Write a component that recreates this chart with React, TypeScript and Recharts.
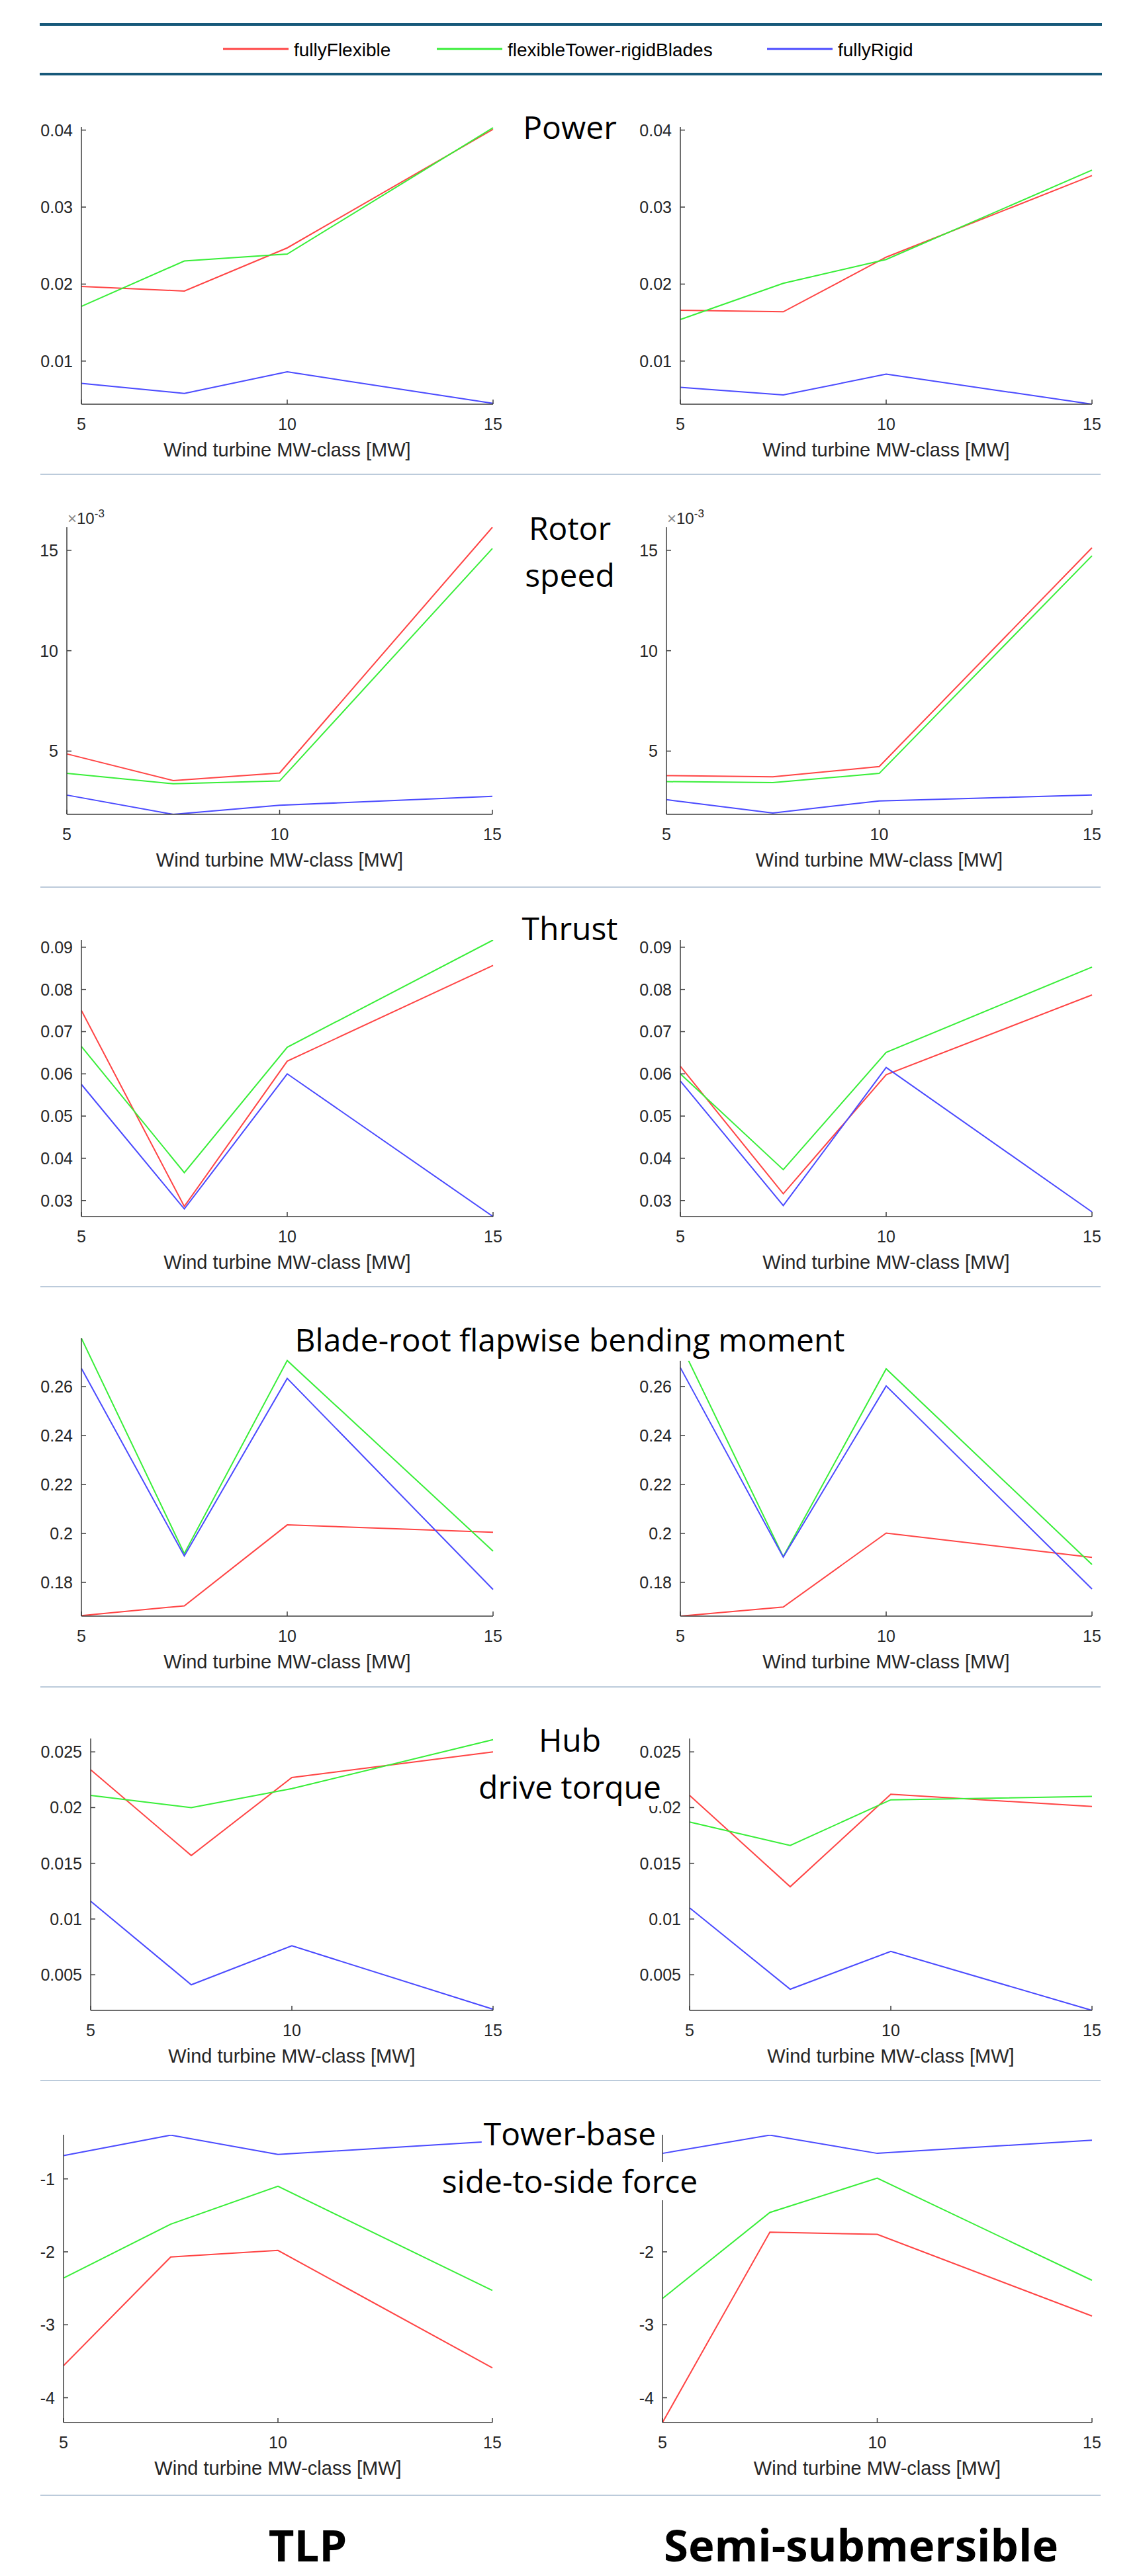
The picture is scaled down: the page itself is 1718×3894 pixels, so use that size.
import React from 'react';
import { LineChart, Line, XAxis, YAxis, Label } from 'recharts';

const PAGE_W = 1718;
const PAGE_H = 3894;
const AXIS = '#3c3c3c';
const INK = '#262626';
const TEAL = '#17597a';
const RULE = '#bccbdb';
const TICK_FONT = '"Liberation Sans", Arial, Helvetica, sans-serif';
const TITLE_FONT = '"Open Sans", "Noto Sans", sans-serif';

const MW = [5, 7.5, 10, 15];
const X_TICKS = [5, 10, 15];
const X_LABEL = 'Wind turbine MW-class [MW]';

const SERIES = [
  { key: 'flex', name: 'fullyFlexible', color: '#ff4444' },
  { key: 'tower', name: 'flexibleTower-rigidBlades', color: '#38ee38' },
  { key: 'rigid', name: 'fullyRigid', color: '#4a4aff' },
];

// Power
const powerTicks = [0.01, 0.02, 0.03, 0.04];
const powerDomain = [0.0044, 0.0404];
const powerTlpFlex = [0.0197, 0.0191, 0.0247, 0.0401];
const powerTlpTower = [0.0171, 0.023, 0.0239, 0.0403];
const powerTlpRigid = [0.0071, 0.0058, 0.0086, 0.0045];
const powerSemiFlex = [0.0166, 0.0164, 0.0235, 0.0341];
const powerSemiTower = [0.0154, 0.0201, 0.0232, 0.0348];
const powerSemiRigid = [0.0066, 0.0056, 0.0083, 0.0044];

// Rotor speed (x 10^-3)
const rotorTicks = [5, 10, 15];
const rotorDomain = [1.85, 16.15];
const rotorTlpFlex = [4.86, 3.53, 3.91, 16.15];
const rotorTlpTower = [3.89, 3.37, 3.51, 15.09];
const rotorTlpRigid = [2.81, 1.85, 2.3, 2.75];
const rotorSemiFlex = [3.78, 3.72, 4.23, 15.13];
const rotorSemiTower = [3.48, 3.43, 3.89, 14.73];
const rotorSemiRigid = [2.58, 1.92, 2.52, 2.81];

// Thrust
const thrustTicks = [0.03, 0.04, 0.05, 0.06, 0.07, 0.08, 0.09];
const thrustDomain = [0.0262, 0.0917];
const thrustTlpFlex = [0.075, 0.0286, 0.063, 0.0857];
const thrustTlpTower = [0.0665, 0.0366, 0.0663, 0.0917];
const thrustTlpRigid = [0.0575, 0.028, 0.06, 0.0262];
const thrustSemiFlex = [0.0618, 0.0316, 0.0598, 0.0787];
const thrustSemiTower = [0.06, 0.0373, 0.0651, 0.0853];
const thrustSemiRigid = [0.0583, 0.0288, 0.0615, 0.0273];

// Blade-root flapwise bending moment
const bladeTicks = [0.18, 0.2, 0.22, 0.24, 0.26];
const bladeTlpDomain = [0.1662, 0.2798];
const bladeSemiDomain = [0.1662, 0.2705];
const bladeTlpFlex = [0.1664, 0.1704, 0.2035, 0.2005];
const bladeTlpTower = [0.2798, 0.1918, 0.2707, 0.1928];
const bladeTlpRigid = [0.2675, 0.1908, 0.2634, 0.1771];
const bladeSemiFlex = [0.1662, 0.1699, 0.2001, 0.1902];
const bladeSemiTower = [0.2775, 0.1905, 0.2672, 0.1873];
const bladeSemiRigid = [0.2677, 0.1903, 0.2602, 0.1773];

// Hub drive torque
const hubTicks = [0.005, 0.01, 0.015, 0.02, 0.025];
const hubDomain = [0.0018, 0.0262];
const hubTlpFlex = [0.0234, 0.0157, 0.0227, 0.025];
const hubTlpTower = [0.0211, 0.02, 0.0217, 0.0261];
const hubTlpRigid = [0.0116, 0.0041, 0.0076, 0.0019];
const hubSemiFlex = [0.0211, 0.0129, 0.0212, 0.0201];
const hubSemiTower = [0.0187, 0.0166, 0.0207, 0.021];
const hubSemiRigid = [0.011, 0.0037, 0.0071, 0.0018];

// Tower-base side-to-side force
const towerTicks = [-4, -3, -2, -1];
const towerDomain = [-4.34, -0.395];
const towerTlpFlex = [-3.56, -2.07, -1.98, -3.59];
const towerTlpTower = [-2.36, -1.62, -1.1, -2.53];
const towerTlpRigid = [-0.68, -0.4, -0.665, -0.485];
const towerSemiFlex = [-4.34, -1.73, -1.76, -2.88];
const towerSemiTower = [-2.64, -1.46, -0.99, -2.39];
const towerSemiRigid = [-0.65, -0.4, -0.65, -0.47];

const Y_W = 130;
const TOP = 14;
const RIGHT = 24;
const X_H = 100;
const Y_GAP = 13;
const X_GAP = 21;
const TICK_LEN = 7;

function YTick(props: any) {
  const { x, y, payload } = props;
  const ax = x + Y_GAP;
  return (
    <g>
      <line x1={ax} x2={ax + TICK_LEN} y1={y} y2={y} stroke={AXIS} strokeWidth={1.5} />
      <text x={x} y={y} dy="0.36em" textAnchor="end" fontSize={25} fill={INK} fontFamily={TICK_FONT}>
        {String(payload.value)}
      </text>
    </g>
  );
}

function XTick(props: any) {
  const { x, y, payload } = props;
  const ay = y - X_GAP;
  return (
    <g>
      <line x1={x} x2={x} y1={ay} y2={ay - TICK_LEN} stroke={AXIS} strokeWidth={1.5} />
      <text x={x} y={y} dy="0.71em" textAnchor="middle" fontSize={25} fill={INK} fontFamily={TICK_FONT}>
        {String(payload.value)}
      </text>
    </g>
  );
}

type Box = { x0: number; x1: number; y0: number; y1: number };

function Panel({ box, flex, tower, rigid, ticks, domain }: any) {
  const b = box as Box;
  const rows = MW.map((mw, i) => ({ mw, flex: flex[i], tower: tower[i], rigid: rigid[i] }));
  const width = b.x1 - b.x0 + Y_W + RIGHT;
  const height = b.y1 - b.y0 + TOP + X_H;
  return (
    <div style={{ position: 'absolute', left: b.x0 - Y_W, top: b.y0 - TOP }}>
      <LineChart width={width} height={height} data={rows} margin={{ top: TOP, right: RIGHT, bottom: 0, left: 0 }}>
        <XAxis
          dataKey="mw"
          type="number"
          domain={[5, 15]}
          ticks={X_TICKS}
          interval={0}
          height={X_H}
          tickSize={0}
          tickMargin={X_GAP}
          tickLine={false}
          axisLine={{ stroke: AXIS, strokeWidth: 1.5 }}
          tick={(p: any) => <XTick {...p} />}
        >
          <Label value={X_LABEL} position="insideTop" offset={58} fontSize={29} fill={INK} fontFamily={TICK_FONT} />
        </XAxis>
        <YAxis
          type="number"
          domain={domain}
          allowDataOverflow
          ticks={ticks}
          interval={0}
          width={Y_W}
          tickSize={0}
          tickMargin={Y_GAP}
          tickLine={false}
          axisLine={{ stroke: AXIS, strokeWidth: 1.5 }}
          tick={(p: any) => <YTick {...p} />}
        />
        {SERIES.map((s) => (
          <Line
            key={s.key}
            dataKey={s.key}
            type="linear"
            stroke={s.color}
            strokeWidth={2}
            dot={false}
            activeDot={false}
            isAnimationActive={false}
          />
        ))}
      </LineChart>
    </div>
  );
}

const TITLE_LINES = [
  { text: 'Power', base: 211 },
  { text: 'Rotor', base: 817 },
  { text: 'speed', base: 888 },
  { text: 'Thrust', base: 1422 },
  { text: 'Blade-root flapwise bending moment', base: 2044 },
  { text: 'Hub', base: 2649 },
  { text: 'drive torque', base: 2720 },
  { text: 'Tower-base', base: 3244 },
  { text: 'side-to-side force', base: 3316 },
];

const RULES_Y = [717, 1341, 1945, 2550, 3145, 3772];
const LEGEND_X = [337, 660, 1159];

export default function App() {
  return (
    <div style={{ position: 'absolute', left: 0, top: 0, width: PAGE_W, height: PAGE_H, background: '#fff', overflow: 'hidden' }}>
      <Panel box={{ x0: 123, x1: 745, y0: 192, y1: 611 }} flex={powerTlpFlex} tower={powerTlpTower} rigid={powerTlpRigid} ticks={powerTicks} domain={powerDomain} />
      <Panel box={{ x0: 1028, x1: 1650, y0: 192, y1: 611 }} flex={powerSemiFlex} tower={powerSemiTower} rigid={powerSemiRigid} ticks={powerTicks} domain={powerDomain} />
      <Panel box={{ x0: 101, x1: 744, y0: 797, y1: 1231 }} flex={rotorTlpFlex} tower={rotorTlpTower} rigid={rotorTlpRigid} ticks={rotorTicks} domain={rotorDomain} />
      <Panel box={{ x0: 1007, x1: 1650, y0: 797, y1: 1231 }} flex={rotorSemiFlex} tower={rotorSemiTower} rigid={rotorSemiRigid} ticks={rotorTicks} domain={rotorDomain} />
      <Panel box={{ x0: 123, x1: 745, y0: 1421, y1: 1839 }} flex={thrustTlpFlex} tower={thrustTlpTower} rigid={thrustTlpRigid} ticks={thrustTicks} domain={thrustDomain} />
      <Panel box={{ x0: 1028, x1: 1650, y0: 1421, y1: 1839 }} flex={thrustSemiFlex} tower={thrustSemiTower} rigid={thrustSemiRigid} ticks={thrustTicks} domain={thrustDomain} />
      <Panel box={{ x0: 123, x1: 745, y0: 2023, y1: 2443 }} flex={bladeTlpFlex} tower={bladeTlpTower} rigid={bladeTlpRigid} ticks={bladeTicks} domain={bladeTlpDomain} />
      <Panel box={{ x0: 1028, x1: 1650, y0: 2057, y1: 2443 }} flex={bladeSemiFlex} tower={bladeSemiTower} rigid={bladeSemiRigid} ticks={bladeTicks} domain={bladeSemiDomain} />
      <Panel box={{ x0: 137, x1: 745, y0: 2628, y1: 3039 }} flex={hubTlpFlex} tower={hubTlpTower} rigid={hubTlpRigid} ticks={hubTicks} domain={hubDomain} />
      <Panel box={{ x0: 1042, x1: 1650, y0: 2628, y1: 3039 }} flex={hubSemiFlex} tower={hubSemiTower} rigid={hubSemiRigid} ticks={hubTicks} domain={hubDomain} />
      <Panel box={{ x0: 96, x1: 744, y0: 3227, y1: 3662 }} flex={towerTlpFlex} tower={towerTlpTower} rigid={towerTlpRigid} ticks={towerTicks} domain={towerDomain} />
      <Panel box={{ x0: 1001, x1: 1650, y0: 3227, y1: 3662 }} flex={towerSemiFlex} tower={towerSemiTower} rigid={towerSemiRigid} ticks={towerTicks} domain={towerDomain} />

      <svg width={PAGE_W} height={PAGE_H} style={{ position: 'absolute', left: 0, top: 0, pointerEvents: 'none' }}>
        <rect x={60} y={35} width={1605} height={4} fill={TEAL} />
        <rect x={60} y={110} width={1605} height={4} fill={TEAL} />
        {SERIES.map((s, i) => (
          <g key={s.key}>
            <line x1={LEGEND_X[i]} x2={LEGEND_X[i] + 99} y1={74} y2={74} stroke={s.color} strokeWidth={3} />
            <text x={LEGEND_X[i] + 107} y={85} fontSize={28} fill="#000" fontFamily={TICK_FONT}>
              {s.name}
            </text>
          </g>
        ))}
        {RULES_Y.map((y) => (
          <line key={y} x1={61} x2={1663} y1={y} y2={y} stroke={RULE} strokeWidth={2} />
        ))}
        {[102, 1008].map((x) => (
          <text key={x} x={x} y={792} fontSize={24} fill={INK} fontFamily={TICK_FONT}>
            <tspan fill="#8a8a8a">×</tspan>10
            <tspan dy={-10} fontSize={17}>-3</tspan>
          </text>
        ))}
        <text x={465} y={3872} textAnchor="middle" fontSize={67} fontWeight={700} fill="#000" fontFamily={TITLE_FONT}>
          TLP
        </text>
        <text x={1301} y={3872} textAnchor="middle" fontSize={67} fontWeight={700} fill="#000" fontFamily={TITLE_FONT}>
          Semi-submersible
        </text>
      </svg>

      {TITLE_LINES.map((t) => (
        <div
          key={t.text}
          style={{
            position: 'absolute',
            left: 861,
            top: t.base - 47.6,
            transform: 'translateX(-50%)',
            fontSize: 48,
            lineHeight: '58px',
            fontFamily: TITLE_FONT,
            color: '#000',
            background: '#fff',
            padding: '0 3px',
            whiteSpace: 'nowrap',
          }}
        >
          {t.text}
        </div>
      ))}
    </div>
  );
}
